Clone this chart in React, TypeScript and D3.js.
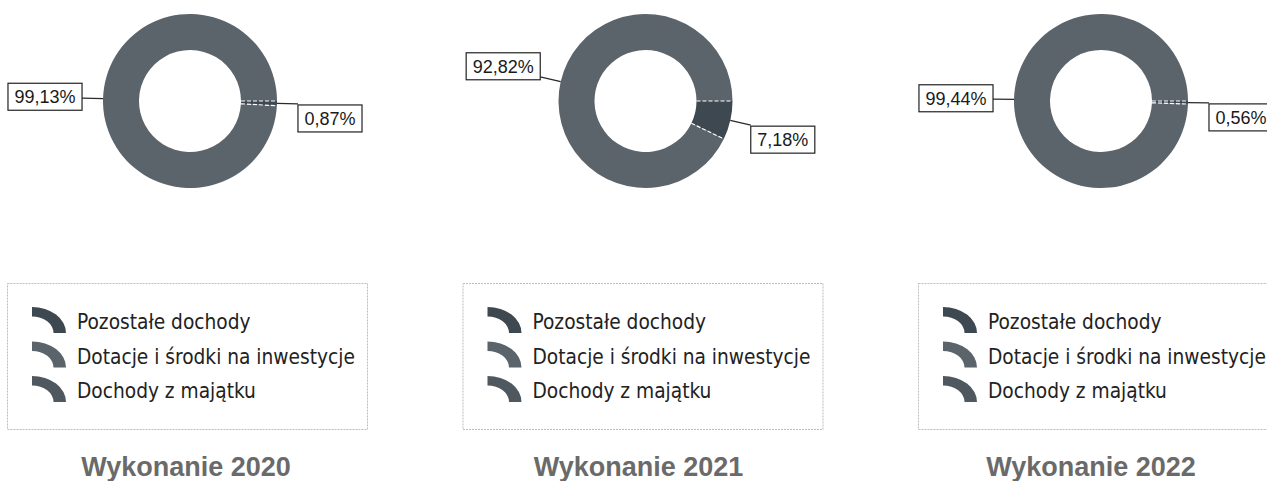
import React, { useEffect, useRef } from 'react';
import * as d3 from 'd3';

const years = ['2020', '2021', '2022'];
const categories = ['Pozostałe dochody', 'Dotacje i środki na inwestycje', 'Dochody z majątku'];
const colors = ['#3e4851', '#5b636b', '#50585f'];

// udział w dochodach majątkowych [%], kolejność jak w legendzie
const pozostale = [0.87, 7.18, 0.56];
const dotacje = [99.13, 92.82, 99.44];
const majatek = [0, 0, 0];

const W = 1267;
const H = 481;

const fmt = (v: number) => v.toFixed(2).replace('.', ',') + '%';

const App: React.FC = () => {
  const svgRef = useRef<SVGSVGElement>(null);

  useEffect(() => {
    if (!svgRef.current) return;
    const svg = d3.select(svgRef.current);
    svg.selectAll('*').remove();

    const outerR = 87;
    const innerR = 51;
    const cy = 101;

    const panelX = d3.scaleLinear().domain([0, 1]).range([7, 462.5]);

    const pie = d3.pie<number>()
      .sort(null)
      .value(d => d)
      .startAngle(Math.PI / 2)
      .endAngle(Math.PI / 2 + 2 * Math.PI);

    const arc = d3.arc<d3.PieArcDatum<number>>()
      .innerRadius(innerR)
      .outerRadius(outerR);

    // legend swatch: a quarter of a ring, squashed to 34x26
    const iconArc = d3.arc<any>()
      .innerRadius(19)
      .outerRadius(30)
      .startAngle(0)
      .endAngle(Math.PI / 2);

    svg.append('rect').attr('width', W).attr('height', H).attr('fill', '#fff');

    years.forEach((year, i) => {
      const base = panelX(i);
      const cx = base + 183;
      const values = [pozostale[i], dotacje[i], majatek[i]];
      const arcs = pie(values);

      const g = svg.append('g').attr('transform', `translate(${cx},${cy})`);

      g.selectAll('path.slice')
        .data(arcs.filter(d => d.value > 0))
        .join('path')
        .attr('class', 'slice')
        .attr('d', arc)
        .attr('fill', d => colors[d.index]);

      // white dashed separators between slices
      g.selectAll('line.sep')
        .data(arcs.filter(d => d.value > 0))
        .join('line')
        .attr('x1', d => innerR * Math.sin(d.startAngle))
        .attr('y1', d => -innerR * Math.cos(d.startAngle))
        .attr('x2', d => outerR * Math.sin(d.startAngle))
        .attr('y2', d => -outerR * Math.cos(d.startAngle))
        .attr('stroke', '#fff')
        .attr('stroke-width', 1.2)
        .attr('stroke-dasharray', '4 2');

      // labels with leader lines
      arcs.filter(d => d.value > 0).forEach(d => {
        const a = (d.startAngle + d.endAngle) / 2;
        const sx = Math.sin(a);
        const sy = -Math.cos(a);
        const x1 = outerR * sx, y1 = outerR * sy;
        const x2 = (outerR + 21) * sx, y2 = (outerR + 21) * sy;

        g.append('line')
          .attr('x1', x1).attr('y1', y1)
          .attr('x2', x2).attr('y2', y2)
          .attr('stroke', '#2a2a2a')
          .attr('stroke-width', 1.3);

        const lg = g.append('g');
        const txt = lg.append('text')
          .attr('font-family', '"Liberation Sans", Arial, sans-serif')
          .attr('font-size', 18)
          .attr('fill', '#1a1a1a')
          .text(fmt(d.value));
        const tw = (txt.node() as SVGTextElement).getComputedTextLength();
        const bw = tw + 13;
        const bh = 27;
        let bx: number, by: number;
        if (sx > 0) {
          bx = x2;
          by = y2 + 1;
        } else {
          const f = Math.min(0.9, 0.5 + 1.75 * Math.abs(sy));
          bx = x2 - bw;
          by = y2 - bh * f;
        }
        lg.insert('rect', 'text')
          .attr('x', bx).attr('y', by)
          .attr('width', bw).attr('height', bh)
          .attr('fill', '#fff')
          .attr('stroke', '#222')
          .attr('stroke-width', 1.2);
        txt.attr('x', bx + 6.5).attr('y', by + 20);
      });

      // legend
      const leg = svg.append('g').attr('transform', `translate(${base},283)`);
      leg.append('rect')
        .attr('x', 0.5).attr('y', 0.5)
        .attr('width', 360).attr('height', 146)
        .attr('fill', 'none')
        .attr('stroke', '#bdbdbd')
        .attr('stroke-width', 1)
        .attr('stroke-dasharray', '2 1');

      categories.forEach((name, k) => {
        const baseline = 46 + k * 34.5;
        leg.append('path')
          .attr('d', iconArc({}))
          .attr('transform', `translate(25,${baseline + 4}) scale(${34 / 30},${26 / 30})`)
          .attr('fill', colors[k]);
        leg.append('text')
          .attr('x', 70)
          .attr('y', baseline)
          .attr('font-family', '"DejaVu Sans Condensed", "DejaVu Sans", sans-serif')
          .attr('font-stretch', 'condensed')
          .attr('font-size', 20.7)
          .attr('fill', '#222')
          .text(name);
      });

      // title
      svg.append('text')
        .attr('x', base + 179 - i * 3)
        .attr('y', 476)
        .attr('text-anchor', 'middle')
        .attr('font-family', '"Liberation Sans", Arial, sans-serif')
        .attr('font-weight', 'bold')
        .attr('font-size', 27)
        .attr('fill', '#6a6a6a')
        .text(`Wykonanie ${year}`);
    });
  }, []);

  return (
    <svg
      ref={svgRef}
      width={W}
      height={H}
      style={{ position: 'absolute', left: 0, top: 0 }}
    />
  );
};

export default App;
